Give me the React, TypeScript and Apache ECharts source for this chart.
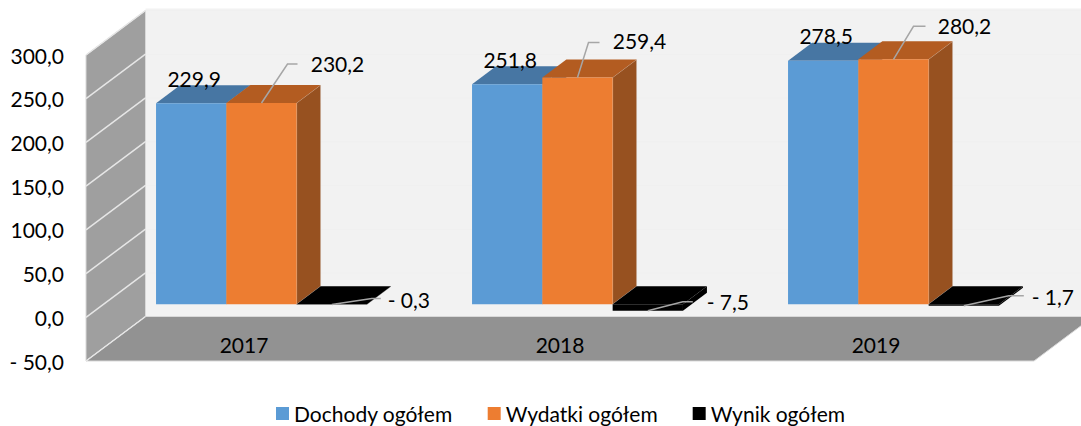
import React, { useEffect, useRef } from "react";
import * as echarts from "echarts";

const categories = ["2017", "2018", "2019"];
const dochody = [229.9, 251.8, 278.5];
const wydatki = [230.2, 259.4, 280.2];
const wynik = [-0.3, -7.5, -1.7];
const wallTicks = [-50, 0, 50, 100, 150, 200, 250, 300];

// leader layout per point: [elbow dx, elbow dy, end dx, text dx, text dy], relative to the bar's anchor
const wydatkiLeaders = [
  [26, -39, 36, 76, -40],
  [11, -35, 22, 62, -37],
  [20, -33, 32, 71, -34],
];
const wynikLeaders = [
  [40, -6, 49, 77, -5],
  [35, -9, 45, 80, -9],
  [45, -10, 60, 89, -9],
];

const FONT = "Lato";
const FONT_SIZE = 21;
const WALL_DX = 59.5;
const WALL_DY = -44.5;
const BAR_DX = 17.5;
const BAR_DY = -13;
const BAR_DEPTH_X = 24;
const BAR_DEPTH_Y = -18;
const BAR_WIDTH_RATIO = 0.2225;

const fmt = (v: number) =>
  (v < 0 ? "- " : "") + Math.abs(v).toFixed(1).replace(".", ",");

const poly = (points: number[][], fill: string, z2 = 0, stroke?: string) => ({
  type: "polygon",
  z2,
  shape: { points },
  style: { fill, stroke: stroke || "none", lineWidth: stroke ? 1 : 0 },
});

function barSeries(
  name: string,
  values: number[],
  slot: number,
  colors: { front: string; top: string; side: string },
  leaders: number[][] | null,
  labelOffset: number[] | null,
  z2base: number
) {
  return {
    name,
    type: "custom",
    coordinateSystem: "cartesian2d",
    z: 3,
    itemStyle: { color: colors.front },
    encode: { x: 0, y: 1 },
    data: values.map((v, i) => [i, v]),
    renderItem: (params: any, api: any) => {
      const i = api.value(0);
      const v = api.value(1);
      const band = api.size([1, 0])[0];
      const w = band * BAR_WIDTH_RATIO;
      const zero = api.coord([i, 0]);
      const val = api.coord([i, v]);
      const x0 = zero[0] + BAR_DX + (slot - 1.5) * w;
      const x1 = x0 + w;
      const yZero = zero[1] + BAR_DY;
      const yVal = val[1] + BAR_DY;
      const yTop = Math.min(yZero, yVal);
      const yBot = Math.max(yZero, yVal);
      const dx = BAR_DEPTH_X;
      const dy = BAR_DEPTH_Y;
      const edge = "rgba(225,225,225,0.35)";
      const children: any[] = [
        poly([[x1, yTop], [x1 + dx, yTop + dy], [x1 + dx, yBot + dy], [x1, yBot]], colors.side, z2base, v >= 0 ? edge : undefined),
        poly([[x0, yTop], [x0 + dx, yTop + dy], [x1 + dx, yTop + dy], [x1, yTop]], colors.top, z2base + 1),
        poly([[x0, yTop], [x1, yTop], [x1, yBot], [x0, yBot]], colors.front, z2base + 2),
      ];
      const ax = (x0 + x1) / 2;
      const ay = v >= 0 ? yVal : yBot;
      if (leaders) {
        const [ex, ey, endx, tx, ty] = leaders[i];
        children.push({
          type: "polyline",
          z2: 30,
          shape: { points: [[ax, ay], [ax + ex, ay + ey], [ax + endx, ay + ey]] },
          style: { stroke: "#a6a6a6", lineWidth: 1.5, fill: "none" },
        });
        children.push({
          type: "text",
          z2: 40,
          style: {
            x: ax + tx,
            y: ay + ty,
            text: fmt(v),
            font: `${FONT_SIZE}px ${FONT}`,
            fill: "#000",
            align: "center",
            verticalAlign: "middle",
          },
        });
      } else if (labelOffset) {
        children.push({
          type: "text",
          z2: 40,
          style: {
            x: ax + labelOffset[0],
            y: ay + labelOffset[1],
            text: fmt(v),
            font: `${FONT_SIZE}px ${FONT}`,
            fill: "#000",
            align: "center",
            verticalAlign: "middle",
          },
        });
      }
      return { type: "group", children };
    },
  };
}

const wallSeries = {
  name: "walls",
  type: "custom",
  coordinateSystem: "cartesian2d",
  z: 1,
  silent: true,
  encode: { x: 0, y: 1 },
  data: wallTicks.map((t) => [0, t]),
  renderItem: (params: any, api: any) => {
    const cs = params.coordSys;
    const left = cs.x;
    const right = cs.x + cs.width;
    const top = cs.y;
    const bottom = cs.y + cs.height;
    const children: any[] = [];
    const y = api.coord([0, api.value(1)])[1];
    if (params.dataIndex === 0) {
      children.push(
        poly([[left + WALL_DX, top + WALL_DY - 2], [1081, top + WALL_DY - 2], [1081, bottom + WALL_DY], [left + WALL_DX, bottom + WALL_DY]], "#f2f2f2", 0),
        poly([[left, top], [left + WALL_DX, top + WALL_DY], [left + WALL_DX, bottom + WALL_DY], [left, bottom]], "#9f9f9f", 1, "#d9d9d9"),
        poly([[left, bottom], [left + WALL_DX, bottom + WALL_DY], [right + WALL_DX, bottom + WALL_DY], [right, bottom]], "#929292", 1, "#d9d9d9")
      );
    }
    children.push({
      type: "line",
      z2: 2,
      shape: { x1: left, y1: y, x2: left + WALL_DX, y2: y + WALL_DY },
      style: { stroke: "#e6e6e6", lineWidth: 1.5 },
    });
    if (y < bottom - 1) {
      children.push({
        type: "line",
        z2: 2,
        shape: { x1: left + WALL_DX, y1: y + WALL_DY, x2: 1081, y2: y + WALL_DY },
        style: { stroke: "#f0f0f0", lineWidth: 1 },
      });
    }
    return { type: "group", children };
  },
};

export default function App() {
  const ref = useRef<HTMLDivElement>(null);
  useEffect(() => {
    const chart = echarts.init(ref.current!, undefined, { renderer: "svg" });
    chart.setOption({
      animation: false,
      backgroundColor: "#ffffff",
      grid: { left: 86, right: 47, top: 55, bottom: 65, containLabel: false },
      legend: {
        data: ["Dochody ogółem", "Wydatki ogółem", "Wynik ogółem"],
        left: 276,
        top: 403,
        icon: "rect",
        itemWidth: 13,
        itemHeight: 13,
        itemGap: 35,
        padding: 0,
        selectedMode: false,
        textStyle: { fontFamily: FONT, fontSize: FONT_SIZE, color: "#000" },
      },
      xAxis: {
        type: "category",
        data: categories,
        z: 5,
        axisLine: { show: false },
        axisTick: { show: false },
        splitLine: { show: false },
        axisLabel: {
          inside: true,
          margin: 6,
          fontFamily: FONT,
          fontSize: FONT_SIZE,
          color: "#000",
        },
      },
      yAxis: {
        type: "value",
        min: -50,
        max: 300,
        interval: 50,
        axisLine: { show: false, onZero: false },
        axisTick: { show: false },
        splitLine: { show: false },
        axisLabel: {
          margin: 22,
          padding: [3, 0, 0, 0],
          fontFamily: FONT,
          fontSize: FONT_SIZE,
          color: "#000",
          formatter: (v: number) => fmt(v),
        },
      },
      series: [
        wallSeries,
        barSeries("Dochody ogółem", dochody, 0, { front: "#5b9bd5", top: "#4776a3", side: "#3f6c96" }, null, [3, -25], 0),
        barSeries("Wydatki ogółem", wydatki, 1, { front: "#ed7d31", top: "#b35c21", side: "#975120" }, wydatkiLeaders, null, 5),
        barSeries("Wynik ogółem", wynik, 2, { front: "#000000", top: "#000000", side: "#000000" }, wynikLeaders, null, 10),
      ],
    });
    return () => chart.dispose();
  }, []);
  return (
    <div
      ref={ref}
      style={{ position: "absolute", left: 0, top: 0, width: 1081, height: 426 }}
    />
  );
}
